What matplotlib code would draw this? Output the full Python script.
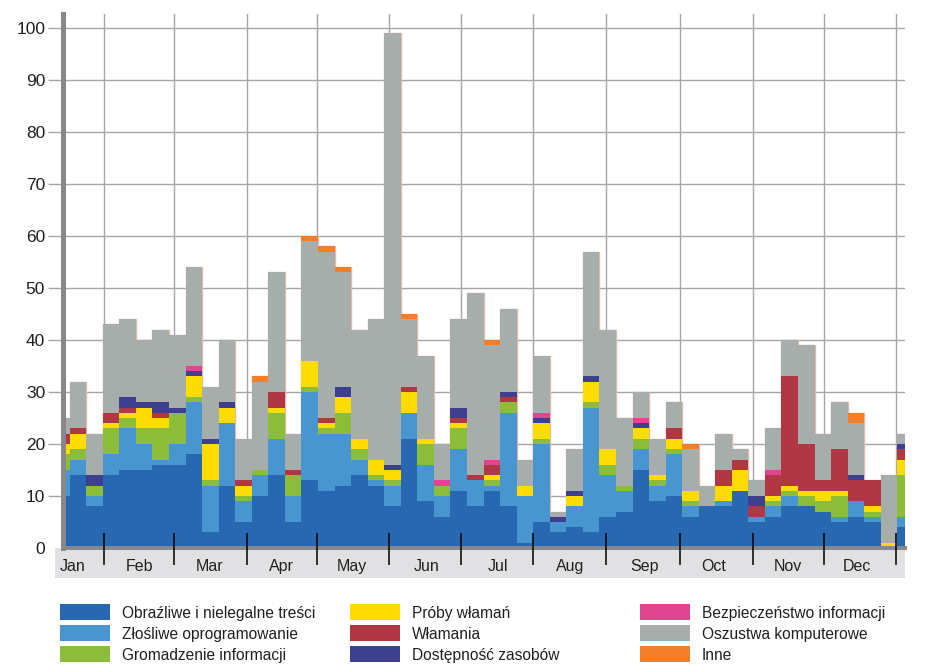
import matplotlib
matplotlib.use('Agg')
import matplotlib.pyplot as plt
from matplotlib.patches import Rectangle
import numpy as np

plt.rcParams['font.family'] = ['Liberation Sans', 'DejaVu Sans']

# kategorie incydentów (kolejność stosu od dołu)
kategorie = ['Obraźliwe i nielegalne treści', 'Złośliwe oprogramowanie',
             'Gromadzenie informacji', 'Próby włamań', 'Włamania',
             'Dostępność zasobów', 'Bezpieczeństwo informacji',
             'Oszustwa komputerowe', 'Inne']
kolory = ['#2768b1', '#4896cf', '#8bbd3b', '#ffdc00', '#b03845',
          '#3e3f8f', '#e2458f', '#a7adaa', '#f37f2a']

# długość przedziałów (dni) - pierwszy tydzień niepełny
dni_przedzialu = [2] + [7] * 51

# liczba incydentów w kolejnych tygodniach
obrazliwe = [10, 14, 8, 14, 15, 15, 16, 16, 18, 3, 12, 5, 10, 14, 5, 13, 11, 12, 14, 12,
             8, 21, 9, 6, 11, 8, 11, 8, 1, 5, 3, 4, 3, 6, 7, 15, 9, 10, 6, 8,
             8, 11, 5, 6, 8, 8, 7, 5, 6, 5, 0, 4]
zlosliwe = [5, 3, 2, 4, 8, 5, 1, 4, 10, 9, 12, 4, 4, 7, 5, 17, 11, 10, 3, 1,
            4, 5, 7, 4, 8, 5, 1, 18, 9, 15, 2, 4, 24, 8, 4, 4, 3, 8, 2, 0,
            1, 0, 1, 2, 2, 0, 0, 1, 3, 1, 0, 2]
gromadzenie = [3, 2, 2, 5, 2, 3, 6, 6, 1, 1, 0, 1, 1, 5, 4, 1, 1, 4, 2, 1,
               1, 0, 4, 2, 4, 0, 1, 2, 0, 1, 0, 0, 1, 2, 1, 2, 1, 1, 1, 0,
               0, 0, 0, 1, 1, 2, 2, 4, 0, 1, 0, 8]
proby = [2, 3, 0, 1, 1, 4, 2, 0, 4, 7, 3, 2, 0, 1, 0, 5, 1, 3, 2, 3,
         2, 4, 1, 0, 1, 0, 1, 0, 2, 3, 0, 2, 4, 3, 0, 2, 1, 2, 2, 0,
         3, 4, 0, 1, 1, 1, 2, 1, 0, 1, 1, 3]
wlamania = [2, 1, 0, 2, 1, 0, 1, 0, 0, 0, 0, 1, 0, 3, 1, 0, 1, 0, 0, 0,
            0, 1, 0, 0, 1, 1, 2, 1, 0, 0, 0, 0, 0, 0, 0, 0, 0, 2, 0, 0,
            3, 2, 2, 4, 21, 9, 2, 8, 4, 5, 0, 2]
dostepnosc = [0, 0, 2, 0, 2, 1, 2, 1, 1, 1, 1, 0, 0, 0, 0, 0, 0, 2, 0, 0,
              1, 0, 0, 0, 2, 0, 0, 1, 0, 1, 1, 1, 1, 0, 0, 1, 0, 0, 0, 0,
              0, 0, 2, 0, 0, 0, 0, 0, 1, 0, 0, 1]
bezpieczenstwo = [0, 0, 0, 0, 0, 0, 0, 0, 1, 0, 0, 0, 0, 0, 0, 0, 0, 0, 0, 0,
                  0, 0, 0, 1, 0, 0, 1, 0, 0, 1, 0, 0, 0, 0, 0, 1, 0, 0, 0, 0,
                  0, 0, 0, 1, 0, 0, 0, 0, 0, 0, 0, 0]
oszustwa = [3, 9, 8, 17, 15, 12, 14, 14, 19, 10, 12, 8, 17, 23, 7, 23, 32, 22, 21, 27,
            83, 13, 16, 7, 17, 35, 22, 16, 5, 11, 1, 8, 24, 23, 13, 5, 7, 5, 8, 4,
            7, 2, 3, 8, 7, 19, 9, 9, 10, 0, 13, 2]
inne = [0, 0, 0, 0, 0, 0, 0, 0, 0, 0, 0, 0, 1, 0, 0, 1, 1, 1, 0, 0,
        0, 1, 0, 0, 0, 0, 1, 0, 0, 0, 0, 0, 0, 0, 0, 0, 0, 0, 1, 0,
        0, 0, 0, 0, 0, 0, 0, 0, 2, 0, 0, 0]

serie = [obrazliwe, zlosliwe, gromadzenie, proby, wlamania,
         dostepnosc, bezpieczenstwo, oszustwa, inne]

miesiace = ['Jan', 'Feb', 'Mar', 'Apr', 'May', 'Jun',
            'Jul', 'Aug', 'Sep', 'Oct', 'Nov', 'Dec']
dzien_etykiety = [3, 31.5, 61, 91.5, 121.5, 153, 183, 213.5, 245, 274.5, 305.5, 335]
dzien_podzialki = [16.5, 46, 77, 106.5, 137, 167.5, 198, 229, 260, 291, 321, 351.5]

# pozycje słupków
szer = np.array(dni_przedzialu, dtype=float)
lewe = np.concatenate([[0], np.cumsum(szer)[:-1]])

fig = plt.figure(figsize=(9.27, 6.70), dpi=100)
W, H = 927, 670
ax = fig.add_axes([62.5 / W, 1 - 548 / H, (905 - 62.5) / W, (548 - 14) / H])

# pasek pod osią z nazwami miesięcy
fig.patches.append(Rectangle((55 / W, 1 - 578 / H), (905 - 55) / W, 30 / H,
                             transform=fig.transFigure, facecolor='#e1e1e4',
                             edgecolor='none', zorder=-1))

# słupki skumulowane
dol = np.zeros(len(szer))
for wartosci, kolor in zip(serie, kolory):
    v = np.array(wartosci, dtype=float)
    ax.bar(lewe, v, width=szer, bottom=dol, align='edge', color=kolor,
           linewidth=0, zorder=1)
    dol += v
# delikatny kontur słupków
ax.bar(lewe, dol, width=szer, align='edge', fill=False, edgecolor='#dcbcad',
       linewidth=1.0, zorder=0.9)

ax.set_xlim(-1.057, 355.24)
ax.set_ylim(0.383, 102.68)
ax.set_axisbelow(True)

ax.set_yticks(range(0, 101, 10))
ax.tick_params(axis='y', length=10.5, width=1.0, color='#a6a6a6', pad=2,
               labelsize=12.5, labelcolor='#231f20')
ax.yaxis.get_major_ticks()[0].tick1line.set_visible(False)

ax.set_xticks(dzien_podzialki)
ax.set_xticklabels([])
ax.set_xticks(dzien_etykiety, minor=True)
ax.set_xticklabels(miesiace, minor=True)
ax.tick_params(axis='x', which='major', length=0)
ax.tick_params(axis='x', which='minor', length=0, pad=8, labelsize=11.5,
               labelcolor='#231f20')

ax.grid(True, which='major', color='#a6a6a6', linewidth=1.0)

# czarne znaczniki podziałki na osi X
ax.vlines(dzien_podzialki, -17 / 534, 15 / 534, transform=ax.get_xaxis_transform(),
          colors='black', linewidth=1.1, clip_on=False, zorder=5)

for s in ['top', 'right']:
    ax.spines[s].set_visible(False)
ax.spines['left'].set_color('#87888c')
ax.spines['left'].set_linewidth(3.6)
ax.spines['bottom'].set_color('#87888c')
ax.spines['bottom'].set_linewidth(2.9)

# legenda (3 kolumny)
kol_x = [60, 350, 640]
wiersz_y = [612, 633, 654]
for i, (nazwa, kolor) in enumerate(zip(kategorie, kolory)):
    k, w = i // 3, i % 3
    fig.patches.append(Rectangle((kol_x[k] / W, 1 - (wiersz_y[w] + 8) / H), 50 / W, 16 / H,
                                 transform=fig.transFigure, facecolor=kolor,
                                 edgecolor='none'))
    fig.text((kol_x[k] + 62) / W, 1 - (wiersz_y[w] + 1.5) / H, nazwa, va='center',
             ha='left', fontsize=11.2, color='#231f20')

plt.savefig('out.png', dpi=100)
plt.close()
